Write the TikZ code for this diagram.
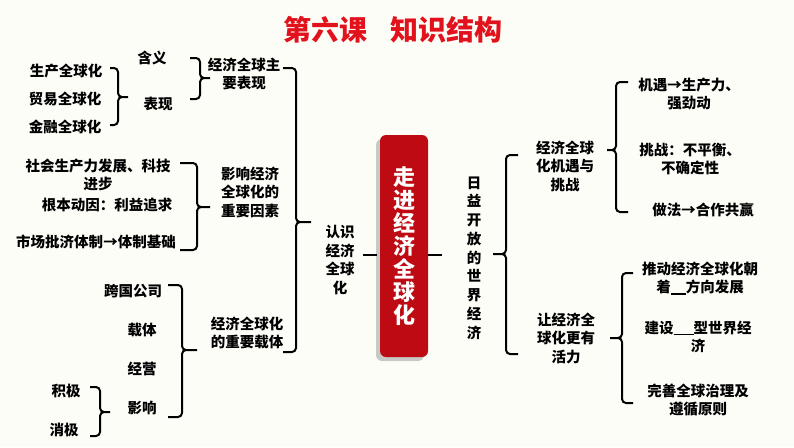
\documentclass[tikz,border=0pt]{standalone}
\usepackage{fontspec}
\usepackage{xcolor}
\usepackage{tikz}
\usetikzlibrary{
  positioning,
  shadows,
  backgrounds
}
\newfontfamily\cjk{Noto Sans CJK SC}
\definecolor{kcRed}{HTML}{E2121C}
\definecolor{kcBox}{HTML}{BE0A13}
\definecolor{kcBg}{HTML}{FDFDF8}
\tikzset{
  kctext/.style={
    font=\cjk\bfseries\fontsize{14.5}{18.5}\selectfont, align=center, inner sep=1pt
  },
  kcvert/.style={kctext, font=\cjk\bfseries\fontsize{14.5}{18.75}\selectfont},
  kctitle/.style={font=\cjk\bfseries\fontsize{28}{30}\selectfont, text=kcRed},
  kcbox/.style={
    fill=kcBox, rounded corners=6pt, minimum width=48pt, minimum height=222pt,
    text=white, align=center, font=\cjk\bfseries\fontsize{22}{23}\selectfont,
    drop shadow={shadow xshift=-4pt, shadow yshift=-4pt, opacity=.35, fill=black!60}
  },
  kuo/.style={line width=2pt, rounded corners=4pt}
}

\begin{document}
\begin{tikzpicture}[x=1pt, y=-1pt]
  \fill[kcBg] (0,0) rectangle (794,447);
  \node[kctitle] (title) at (393,30) {第六课\hspace{0.8em}知识结构};

  \node[kctext] (hy) at (152,58) {含义};
  \node[kctext] (bx) at (158,104) {表现};
  \node[kctext] (scq) at (66,71) {生产全球化};
  \node[kctext] (myq) at (65,99) {贸易全球化};
  \node[kctext] (jrq) at (65,127) {金融全球化};
  \node[kctext] (zybx) at (244,74) {经济全球主\\要表现};
  \node[kctext] (shsc) at (98,175) {社会生产力发展、科技\\进步};
  \node[kctext] (gbdy) at (107,205) {根本动因：利益追求};
  \node[kctext] (scjj) at (96,242) {市场批济体制→体制基础};
  \node[kctext] (yxys) at (250,192) {影响经济\\全球化的\\重要因素};
  \node[kctext] (kggs) at (133,291) {跨国公司};
  \node[kctext] (zt) at (142,330) {载体};
  \node[kctext] (jy) at (142,369) {经营};
  \node[kctext] (yx) at (142,408) {影响};
  \node[kctext] (zyzt) at (247,333) {经济全球化\\的重要载体};
  \node[kctext] (jiji) at (66,391) {积极};
  \node[kctext] (xiaoji) at (64,430) {消极};
  \node[kctext] (rsjj) at (340,260) {认识\\经济\\全球\\化};

  \node[kcbox] (core) at (404,246) {走\\进\\经\\济\\全\\球\\化};

  \node[kcvert] (kfsj) at (474,258) {日\\益\\开\\放\\的\\世\\界\\经\\济};
  \node[kctext] (jytz) at (565,166) {经济全球\\化机遇与\\挑战};
  \node[kctext] (jiyu) at (689,94) {机遇→生产力、\\强劲动};
  \node[kctext] (tiaozh) at (690,159) {挑战：不平衡、\\不确定性};
  \node[kctext] (zuofa) at (703,210) {做法→合作共赢};
  \node[kctext] (gyhl) at (566,338) {让经济全\\球化更有\\活力};
  \node[kctext] (tdjj) at (700,278) {推动经济全球化朝\\着\rule[-2pt]{15pt}{1.2pt}方向发展};
  \node[kctext] (jssj) at (698,337) {建设\rule[-2pt]{20pt}{1.2pt}型世界经\\济};
  \node[kctext] (wszl) at (698,400) {完善全球治理及\\遵循原则};

  \draw[kuo] (110,68) -- (118,68) -- (118,97) -- (128,97) (110,125) -- (118,125) -- (118,97) -- (128,97);
  \draw[kuo] (190,58) -- (200,58) -- (200,78) -- (210,78) (190,99) -- (200,99) -- (200,78) -- (210,78);
  \draw[kuo] (180,163) -- (197,163) -- (197,207) -- (210,207) (180,250) -- (197,250) -- (197,207) -- (210,207);
  \draw[kuo] (168,285) -- (182,285) -- (182,350) -- (197,350) (168,417) -- (182,417) -- (182,350) -- (197,350);
  \draw[kuo] (90,387) -- (100,387) -- (100,412) -- (110,412) (90,436) -- (100,436) -- (100,412) -- (110,412);
  \draw[kuo] (283,68) -- (296,68) -- (296,222) -- (311,222) (283,352) -- (296,352) -- (296,222) -- (311,222);
  \draw[kuo] (518,155) -- (506,155) -- (506,254) -- (493,254) (518,354) -- (506,354) -- (506,254) -- (493,254);
  \draw[kuo] (628,82) -- (616,82) -- (616,150) -- (607,150) (628,212) -- (616,212) -- (616,150) -- (607,150);
  \draw[kuo] (633,273) -- (622,273) -- (622,338) -- (610,338) (633,403) -- (622,403) -- (622,338) -- (610,338);

  \draw[line width=2pt] (363,255) -- (377,255);
  \draw[line width=2pt] (428,255) -- (442,255);
\end{tikzpicture}
\end{document}
